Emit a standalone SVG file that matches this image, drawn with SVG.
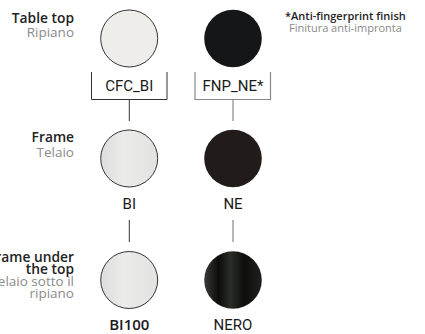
<svg xmlns="http://www.w3.org/2000/svg" width="425" height="334" viewBox="0 0 425 334">
<style>
.h{font-family:"Open Sans","Noto Sans",sans-serif;font-weight:600;font-size:13.8px;fill:#222;text-anchor:end}
.s{font-family:"Open Sans","Noto Sans",sans-serif;font-weight:400;font-size:13.5px;fill:#8a8a8a;text-anchor:end}
.c{font-family:Roboto,"Liberation Sans",sans-serif;font-size:15px;fill:#1a1a1a;text-anchor:middle}
.cb{font-family:"Open Sans","Noto Sans",sans-serif;font-weight:600;font-size:15px;fill:#1a1a1a;text-anchor:middle}
.n1{font-family:"Open Sans","Noto Sans",sans-serif;font-weight:600;font-size:11px;fill:#222}
.n2{font-family:"Open Sans","Noto Sans",sans-serif;font-weight:400;font-size:11px;fill:#8a8a8a}
.k{fill:none;stroke:#333;stroke-width:1}
.g{fill:none;stroke:#888;stroke-width:1.2}
</style>
<defs>
<linearGradient id="gl" x1="0" y1="0" x2="1" y2="0">
<stop offset="0" stop-color="#dcdcda"/><stop offset="0.4" stop-color="#ebebe9"/><stop offset="1" stop-color="#e2e2e0"/>
</linearGradient>
<linearGradient id="gn" x1="0" y1="0" x2="1" y2="0">
<stop offset="0" stop-color="#3a3a38"/><stop offset="0.25" stop-color="#0c0d0b"/><stop offset="0.45" stop-color="#2a2c29"/><stop offset="0.7" stop-color="#0e0f0d"/><stop offset="1" stop-color="#20211f"/>
</linearGradient>
</defs>
<g id="labels">
<text class="h" x="74" y="23">Table top</text>
<text class="s" x="74" y="37">Ripiano</text>
<text class="h" x="74" y="142">Frame</text>
<text class="s" x="74" y="157">Telaio</text>
<text class="h" x="74" y="262">Frame under</text>
<text class="h" x="74" y="274">the top</text>
<text class="s" x="74" y="286">Telaio sotto il</text>
<text class="s" x="74" y="298">ripiano</text>
</g>
<g id="note">
<text class="n1" x="285" y="20">*Anti-fingerprint finish</text>
<text class="n2" x="289" y="32">Finitura anti-impronta</text>
</g>
<g id="connectors">
<path class="k" d="M91.5,72V99.5H167V72"/>
<path class="k" d="M129.3,99.5V121"/>
<path class="g" d="M195,72V99.5H270.5V72"/>
<path class="g" d="M233,99.5V121"/>
<path class="k" d="M129.3,220V242"/>
<path class="g" d="M233,220V242"/>
</g>
<g id="CFC_BI">
<circle cx="129.2" cy="38.5" r="28.5" fill="#efedea" stroke="#333" stroke-width="1"/>
<text class="c" x="129.3" y="91">CFC_BI</text>
</g>
<g id="FNP_NE">
<circle cx="233" cy="38.5" r="28.8" fill="#141617"/>
<text class="c" x="233" y="91">FNP_NE*</text>
</g>
<g id="BI">
<circle cx="129.2" cy="158.5" r="28.5" fill="url(#gl)" stroke="#333" stroke-width="1"/>
<text class="c" x="129.3" y="209">BI</text>
</g>
<g id="NE">
<circle cx="233" cy="158.5" r="28.8" fill="#211c1a"/>
<text class="c" x="233" y="209">NE</text>
</g>
<g id="BI100">
<circle cx="129.2" cy="280" r="28.5" fill="url(#gl)" stroke="#333" stroke-width="1"/>
<text class="cb" x="129.3" y="330">BI100</text>
</g>
<g id="NERO">
<circle cx="233" cy="280" r="28.8" fill="url(#gn)"/>
<text class="c" x="233" y="330">NERO</text>
</g>
</svg>
